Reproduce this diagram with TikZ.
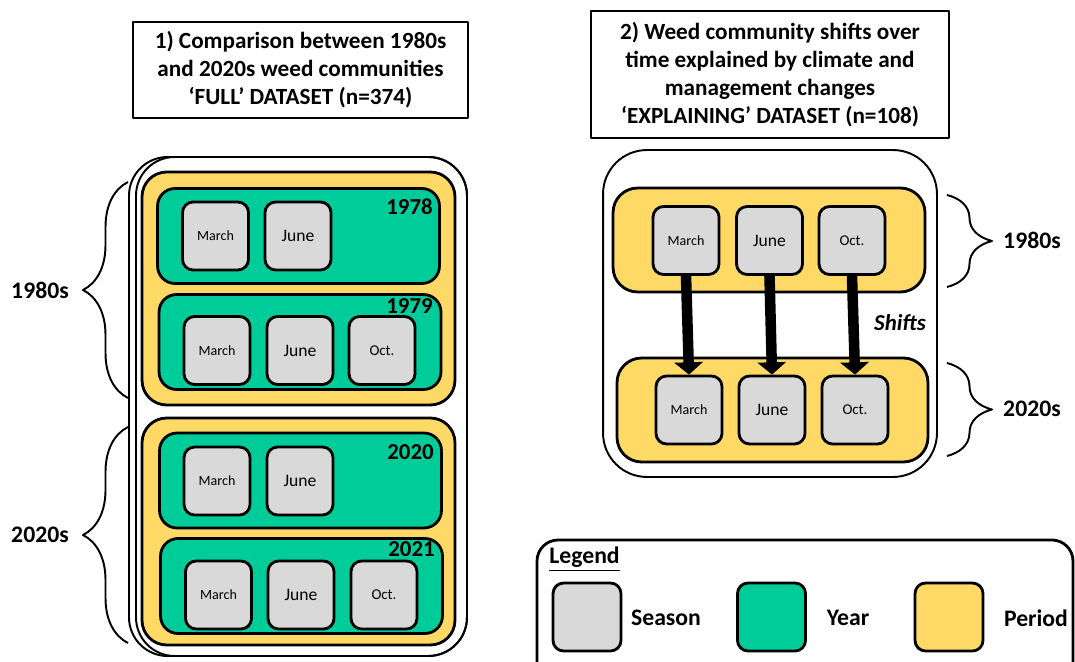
\documentclass[tikz,border=0pt]{standalone}
\usepackage{fontspec}
\setmainfont{Carlito}
\usepackage{tikz}
\usetikzlibrary{arrows.meta,decorations.pathreplacing}
\usepackage{xcolor}
\definecolor{seasongray}{HTML}{D9D9D9}
\definecolor{yeargreen}{HTML}{00CC99}
\definecolor{periodyellow}{HTML}{FFD966}

\begin{document}
\begin{tikzpicture}[x=0.02cm,y=-0.02cm,>={Triangle[width=16pt,length=7pt]},line join=round,
  titlebox/.style={draw,line width=1.1pt,fill=white,align=center,font=\bfseries\fontsize{13.2}{16}\selectfont},
  outerbox/.style={draw,line width=1.1pt,rounded corners=22pt},
  period/.style={draw,line width=1.6pt,fill=periodyellow,rounded corners=14pt,minimum width=6.26cm},
  year/.style={draw,line width=1.6pt,fill=yeargreen,rounded corners=10pt,minimum width=5.64cm,minimum height=1.9cm},
  season/.style={draw,line width=1.6pt,fill=seasongray,rounded corners=6pt,minimum width=1.32cm,minimum height=1.36cm,inner sep=0pt},
  mar/.style={season,font=\fontsize{8}{9}\selectfont},
  jun/.style={season,font=\fontsize{10}{11}\selectfont},
  octo/.style={season,font=\fontsize{8.5}{9}\selectfont},
  yearlbl/.style={anchor=east,inner sep=0pt,font=\bfseries\fontsize{13}{14}\selectfont},
  lbl/.style={font=\bfseries\fontsize{13.5}{15}\selectfont},
  bracket/.style={decorate,decoration={brace,amplitude=0.9cm},line width=1.1pt},
  shiftarrow/.style={->,line width=6pt}]
\useasboundingbox (0,0) rectangle (1075,662);
\clip (0,0) rectangle (1075,662);

\node[titlebox,minimum width=6.7cm,minimum height=1.92cm] (t1) at (300.5,70)
  {1) Comparison between 1980s\\and 2020s weed communities\\‘FULL’ DATASET (n=374)};
\node[titlebox,minimum width=7.16cm,minimum height=2.54cm] (t2) at (770,74.5)
  {2) Weed community shifts over\\time explained by climate and\\management changes\\‘EXPLAINING’ DATASET (n=108)};

\draw[outerbox] (129,157) rectangle (467,656);
\draw[outerbox] (136,157) rectangle (467,656);
\node[period,minimum height=4.66cm] (p80) at (298.5,288.5) {};
\node[period,minimum height=4.54cm] (p20) at (298.5,531.5) {};
\node[year] (y1978) at (298.5,236) {};
\node[year] (y1979) at (300,342) {};
\node[year] (y2020) at (300.5,480.5) {};
\node[year] (y2021) at (301.5,586) {};
\node[yearlbl] (l1978) at (433,207) {1978};
\node[yearlbl] (l1979) at (433,306) {1979};
\node[yearlbl] (l2020) at (434,452) {2020};
\node[yearlbl] (l2021) at (435,549) {2021};
\node[mar] (a1) at (215.5,236) {March};
\node[jun] (a2) at (298,236) {June};
\node[mar] (b1) at (217,350.5) {March};
\node[jun] (b2) at (300,350.5) {June};
\node[octo] (b3) at (382,350.5) {Oct.};
\node[mar] (c1) at (217,481) {March};
\node[jun] (c2) at (300,481) {June};
\node[mar] (d1) at (218.5,595) {March};
\node[jun] (d2) at (301,595) {June};
\node[octo] (d3) at (384,595) {Oct.};

\coordinate (lb1) at (128,398);
\coordinate (lt1) at (128,182);
\coordinate (lb2) at (128,643);
\coordinate (lt2) at (128,427);
\draw[bracket] (lb1) -- (lt1);
\draw[bracket] (lb2) -- (lt2);
\node[lbl] (n80) at (40,290) {1980s};
\node[lbl] (n20) at (40,535) {2020s};

\node[outerbox,minimum width=6.68cm,minimum height=6.54cm,rounded corners=25pt] (right) at (770,313.5) {};
\node[period,minimum width=6.24cm,minimum height=2.08cm] (q80) at (769,240) {};
\node[period,minimum width=6.22cm,minimum height=2.08cm] (q20) at (772.5,410) {};
\node[mar] (e1) at (686,240.5) {March};
\node[jun] (e2) at (769.5,240.5) {June};
\node[octo] (e3) at (852,240.5) {Oct.};
\node[mar] (f1) at (689,410) {March};
\node[jun] (f2) at (772,410) {June};
\node[octo] (f3) at (855,410) {Oct.};
\draw[shiftarrow] (e1.south) -- (f1.north);
\draw[shiftarrow] (e2.south) -- (f2.north);
\draw[shiftarrow] (e3.south) -- (f3.north);
\node[font=\bfseries\itshape\fontsize{13}{14}\selectfont] (shifts) at (900,323) {Shifts};

\coordinate (rt1) at (947,195);
\coordinate (rb1) at (947,287);
\coordinate (rt2) at (947,363);
\coordinate (rb2) at (947,456);
\draw[bracket] (rt1) -- (rb1);
\draw[bracket] (rt2) -- (rb2);
\node[lbl] (m80) at (1032,240) {1980s};
\node[lbl] (m20) at (1032,409) {2020s};

\draw[line width=1.6pt,rounded corners=12pt] (537,540) rectangle (1073,700);
\node[lbl,anchor=west,inner sep=0pt] (leg) at (549,559) {\underline{Legend}};
\node[season,minimum width=1.36cm,minimum height=1.36cm] (k1) at (587,617) {};
\node[season,fill=yeargreen,minimum width=1.36cm,minimum height=1.36cm] (k2) at (771.5,617) {};
\node[season,fill=periodyellow,minimum width=1.36cm,minimum height=1.36cm] (k3) at (949,617) {};
\node[lbl] (kt1) at (666,618) {Season};
\node[lbl] (kt2) at (848,618) {Year};
\node[lbl] (kt3) at (1036,618) {Period};
\end{tikzpicture}
\end{document}
